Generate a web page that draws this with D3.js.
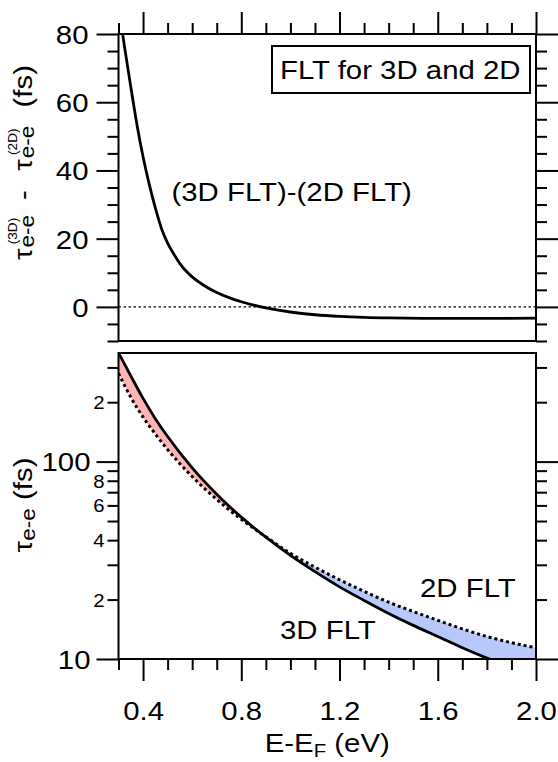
<!DOCTYPE html>
<html>
<head>
<meta charset="utf-8">
<script src="https://cdn.jsdelivr.net/npm/d3@7"></script>
<style>
  body { margin: 0; background: #fff; }
  svg text { font-family: "Liberation Sans", Arial, Helvetica, sans-serif; fill: #000; }
</style>
</head>
<body>
<svg id="chart" width="558" height="762"></svg>
<script>
// top panel: tau(3D) - tau(2D)
const diffEnergy = [0.3, 0.325, 0.35, 0.375, 0.4, 0.425, 0.45, 0.475, 0.5, 0.525, 0.55, 0.575, 0.6, 0.65, 0.7, 0.75, 0.8, 0.85, 0.9, 1.0, 1.1, 1.2, 1.3, 1.4, 1.6, 1.8, 2.0];
const diffValues = [88, 76, 64.5, 53.5, 44, 36, 29, 23, 18.7, 15.5, 12.7, 10.5, 8.8, 6.2, 4.2, 2.7, 1.5, 0.5, -0.3, -1.5, -2.3, -2.8, -3.1, -3.25, -3.35, -3.35, -3.3];

// bottom panel: lifetimes (fs)
const energy = [0.3, 0.35, 0.4, 0.45, 0.5, 0.6, 0.7, 0.8, 0.9, 1.0, 1.1, 1.2, 1.3, 1.4, 1.5, 1.6, 1.7, 1.8, 1.9, 2.0];
const tau3D = [356, 272, 209, 165, 134, 93, 68.4, 52.3, 41.4, 33.5, 27.7, 23.2, 19.8, 17.0, 14.8, 13.0, 11.4, 10.1, 9.05, 8.15];
const tau2D = [280, 212, 168, 138, 115, 84, 64.3, 51, 41.6, 34.3, 29.2, 25.2, 22.0, 19.4, 17.4, 15.7, 14.2, 13.0, 12.1, 11.4];

const xMajor = [0.4, 0.8, 1.2, 1.6, 2.0];
const xMinor = [0.3, 0.5, 0.6, 0.7, 0.9, 1.0, 1.1, 1.3, 1.4, 1.5, 1.7, 1.8, 1.9];
const topMajor = [0, 20, 40, 60, 80];
const topMinor = [-10, -5, 5, 10, 15, 25, 30, 35, 45, 50, 55, 65, 70, 75];
const logMajor = [10, 100];
const logMinor = [20, 30, 40, 50, 60, 70, 80, 90, 200, 300];
const logMinorLabels = { 20: "2", 40: "4", 60: "6", 80: "8", 200: "2" };

const SX = 1.13; // text in the picture is drawn wide
const FS = 26;
const left = 118.5, right = 536;
const top1 = 34, bot1 = 341, top2 = 353, bot2 = 659;

const svg = d3.select("#chart");

const x = d3.scaleLinear().domain([0.3, 2.0]).range([left, right]);
const yTop = d3.scaleLinear().domain([-10, 80]).range([bot1, top1]);
const yBot = d3.scaleLog().domain([10, 355]).range([bot2, top2]);

function stretch(sel) {
  sel.each(function () {
    const t = d3.select(this);
    const tx = +t.attr("x") || 0;
    t.attr("transform", `translate(${tx},0) scale(${SX},1) translate(${-tx},0)`);
  });
}

function styleAxis(g) {
  g.select(".domain").remove();
  g.selectAll(".tick line").attr("stroke", "#000").attr("stroke-width", 2);
  g.selectAll(".tick text").attr("font-size", FS).attr("fill", "#000");
}

const defs = svg.append("defs");
defs.append("clipPath").attr("id", "clipTop")
  .append("rect").attr("x", left).attr("y", top1).attr("width", right - left).attr("height", bot1 - top1);
defs.append("clipPath").attr("id", "clipBot")
  .append("rect").attr("x", left).attr("y", top2).attr("width", right - left).attr("height", bot2 - top2);

// ---------- top panel ----------
const pTop = svg.append("g").attr("clip-path", "url(#clipTop)");

pTop.append("line")
  .attr("x1", left).attr("x2", right)
  .attr("y1", yTop(0)).attr("y2", yTop(0))
  .attr("stroke", "#000").attr("stroke-width", 1.2)
  .attr("stroke-dasharray", "2.5,2.5");

const diffLine = d3.line()
  .x((d, i) => x(diffEnergy[i]))
  .y(d => yTop(d))
  .curve(d3.curveMonotoneX);

pTop.append("path")
  .datum(diffValues)
  .attr("fill", "none")
  .attr("stroke", "#000")
  .attr("stroke-width", 2.8)
  .attr("d", diffLine);

// axes top panel
svg.append("g").attr("transform", `translate(0,${top1})`)
  .call(d3.axisTop(x).tickValues(xMajor).tickSize(22).tickFormat(""))
  .call(styleAxis);
svg.append("g").attr("transform", `translate(0,${top1})`)
  .call(d3.axisTop(x).tickValues(xMinor).tickSize(11).tickFormat(""))
  .call(styleAxis);

const yl = svg.append("g").attr("transform", `translate(${left},0)`)
  .call(d3.axisLeft(yTop).tickValues(topMajor).tickSize(22).tickPadding(8))
  .call(styleAxis);
yl.selectAll(".tick text").attr("dy", "0.36em").call(stretch);
svg.append("g").attr("transform", `translate(${left},0)`)
  .call(d3.axisLeft(yTop).tickValues(topMinor).tickSize(11).tickFormat(""))
  .call(styleAxis);
svg.append("g").attr("transform", `translate(${right},0)`)
  .call(d3.axisRight(yTop).tickValues(topMajor).tickSize(22).tickFormat(""))
  .call(styleAxis);
svg.append("g").attr("transform", `translate(${right},0)`)
  .call(d3.axisRight(yTop).tickValues(topMinor).tickSize(11).tickFormat(""))
  .call(styleAxis);

svg.append("rect")
  .attr("x", left).attr("y", top1).attr("width", right - left).attr("height", bot1 - top1)
  .attr("fill", "none").attr("stroke", "#000").attr("stroke-width", 2);

// legend box
svg.append("rect")
  .attr("x", 272).attr("y", 46).attr("width", 258).attr("height", 47)
  .attr("fill", "#fff").attr("stroke", "#000").attr("stroke-width", 2);
svg.append("text")
  .attr("x", 280).attr("y", 79.5)
  .attr("font-size", FS)
  .text("FLT for 3D and 2D")
  .call(stretch);

svg.append("text")
  .attr("x", 171.5).attr("y", 201.5)
  .attr("font-size", FS)
  .text("(3D FLT)-(2D FLT)")
  .call(stretch);

// top y label, pieces placed along the rotated baseline
const tl = svg.append("g")
  .attr("transform", `translate(32,260) rotate(-90) scale(${SX},1)`);
const piece = (txt, px, py, size) => tl.append("text")
  .attr("x", px).attr("y", py).attr("font-size", size).text(txt);
piece("τ", 0, 0, FS);
piece("e-e", 11, 2, 20);
piece("(3D)", 14, -15, 12);
piece("-", 53, 0, FS);
piece("τ", 79, 0, FS);
piece("e-e", 90, 2, 20);
piece("(2D)", 93, -15, 12);
piece("(fs)", 135, 0, FS);

// ---------- bottom panel ----------
const pBot = svg.append("g").attr("clip-path", "url(#clipBot)");

const redArea = d3.area()
  .x((d, i) => x(energy[i]))
  .y0((d, i) => yBot(tau3D[i]))
  .y1((d, i) => yBot(Math.min(tau3D[i], tau2D[i])))
  .curve(d3.curveMonotoneX);
const blueArea = d3.area()
  .x((d, i) => x(energy[i]))
  .y0((d, i) => yBot(tau2D[i]))
  .y1((d, i) => yBot(Math.min(tau3D[i], tau2D[i])))
  .curve(d3.curveMonotoneX);

pBot.append("path").datum(energy).attr("fill", "#ffb5b5").attr("d", redArea);
pBot.append("path").datum(energy).attr("fill", "#b9c8fc").attr("d", blueArea);

const tauLine = arr => d3.line()
  .x((d, i) => x(energy[i]))
  .y((d, i) => yBot(arr[i]))
  .curve(d3.curveMonotoneX);

pBot.append("path").datum(energy)
  .attr("fill", "none").attr("stroke", "#000")
  .attr("stroke-width", 3)
  .attr("stroke-dasharray", "3,3")
  .attr("d", tauLine(tau2D));

pBot.append("path").datum(energy)
  .attr("fill", "none").attr("stroke", "#000")
  .attr("stroke-width", 2.8)
  .attr("d", tauLine(tau3D));

// axes bottom panel
const xb = svg.append("g").attr("transform", `translate(0,${bot2})`)
  .call(d3.axisBottom(x).tickValues(xMajor).tickSize(22).tickPadding(21).tickFormat(d3.format(".1f")))
  .call(styleAxis);
xb.selectAll(".tick text").call(stretch);
svg.append("g").attr("transform", `translate(0,${bot2})`)
  .call(d3.axisBottom(x).tickValues(xMinor).tickSize(11).tickFormat(""))
  .call(styleAxis);

const lb = svg.append("g").attr("transform", `translate(${left},0)`)
  .call(d3.axisLeft(yBot).tickValues(logMajor).tickSize(22).tickPadding(6).tickFormat(d3.format("d")))
  .call(styleAxis);
lb.selectAll(".tick text").attr("dy", "0.36em").call(stretch);
const lm = svg.append("g").attr("transform", `translate(${left},0)`)
  .call(d3.axisLeft(yBot).tickValues(logMinor).tickSize(11).tickPadding(3)
    .tickFormat(d => logMinorLabels[d] || ""))
  .call(styleAxis);
lm.selectAll(".tick text").attr("font-size", 18).attr("dy", "0.36em").call(stretch);

svg.append("g").attr("transform", `translate(${right},0)`)
  .call(d3.axisRight(yBot).tickValues(logMajor).tickSize(22).tickFormat(""))
  .call(styleAxis);
svg.append("g").attr("transform", `translate(${right},0)`)
  .call(d3.axisRight(yBot).tickValues(logMinor).tickSize(11).tickFormat(""))
  .call(styleAxis);

svg.append("rect")
  .attr("x", left).attr("y", top2).attr("width", right - left).attr("height", bot2 - top2)
  .attr("fill", "none").attr("stroke", "#000").attr("stroke-width", 2);

svg.append("text").attr("x", 420).attr("y", 597).attr("font-size", FS).text("2D FLT").call(stretch);
svg.append("text").attr("x", 280).attr("y", 639.5).attr("font-size", FS).text("3D FLT").call(stretch);

// bottom y label
const bl = svg.append("text")
  .attr("transform", `translate(32,505) rotate(-90) scale(${SX},1)`)
  .attr("text-anchor", "middle")
  .attr("font-size", FS);
bl.append("tspan").text("τ");
bl.append("tspan").attr("font-size", 20).attr("dy", 3).text("e-e");
bl.append("tspan").attr("dy", -3).text(" (fs)");

// x label
const xt = svg.append("text")
  .attr("x", (left + right) / 2).attr("y", 752)
  .attr("text-anchor", "middle")
  .attr("font-size", FS);
xt.append("tspan").text("E-E");
xt.append("tspan").attr("font-size", 18).attr("dy", 5).text("F");
xt.append("tspan").attr("dy", -5).text(" (eV)");
xt.call(stretch);
</script>
</body>
</html>
